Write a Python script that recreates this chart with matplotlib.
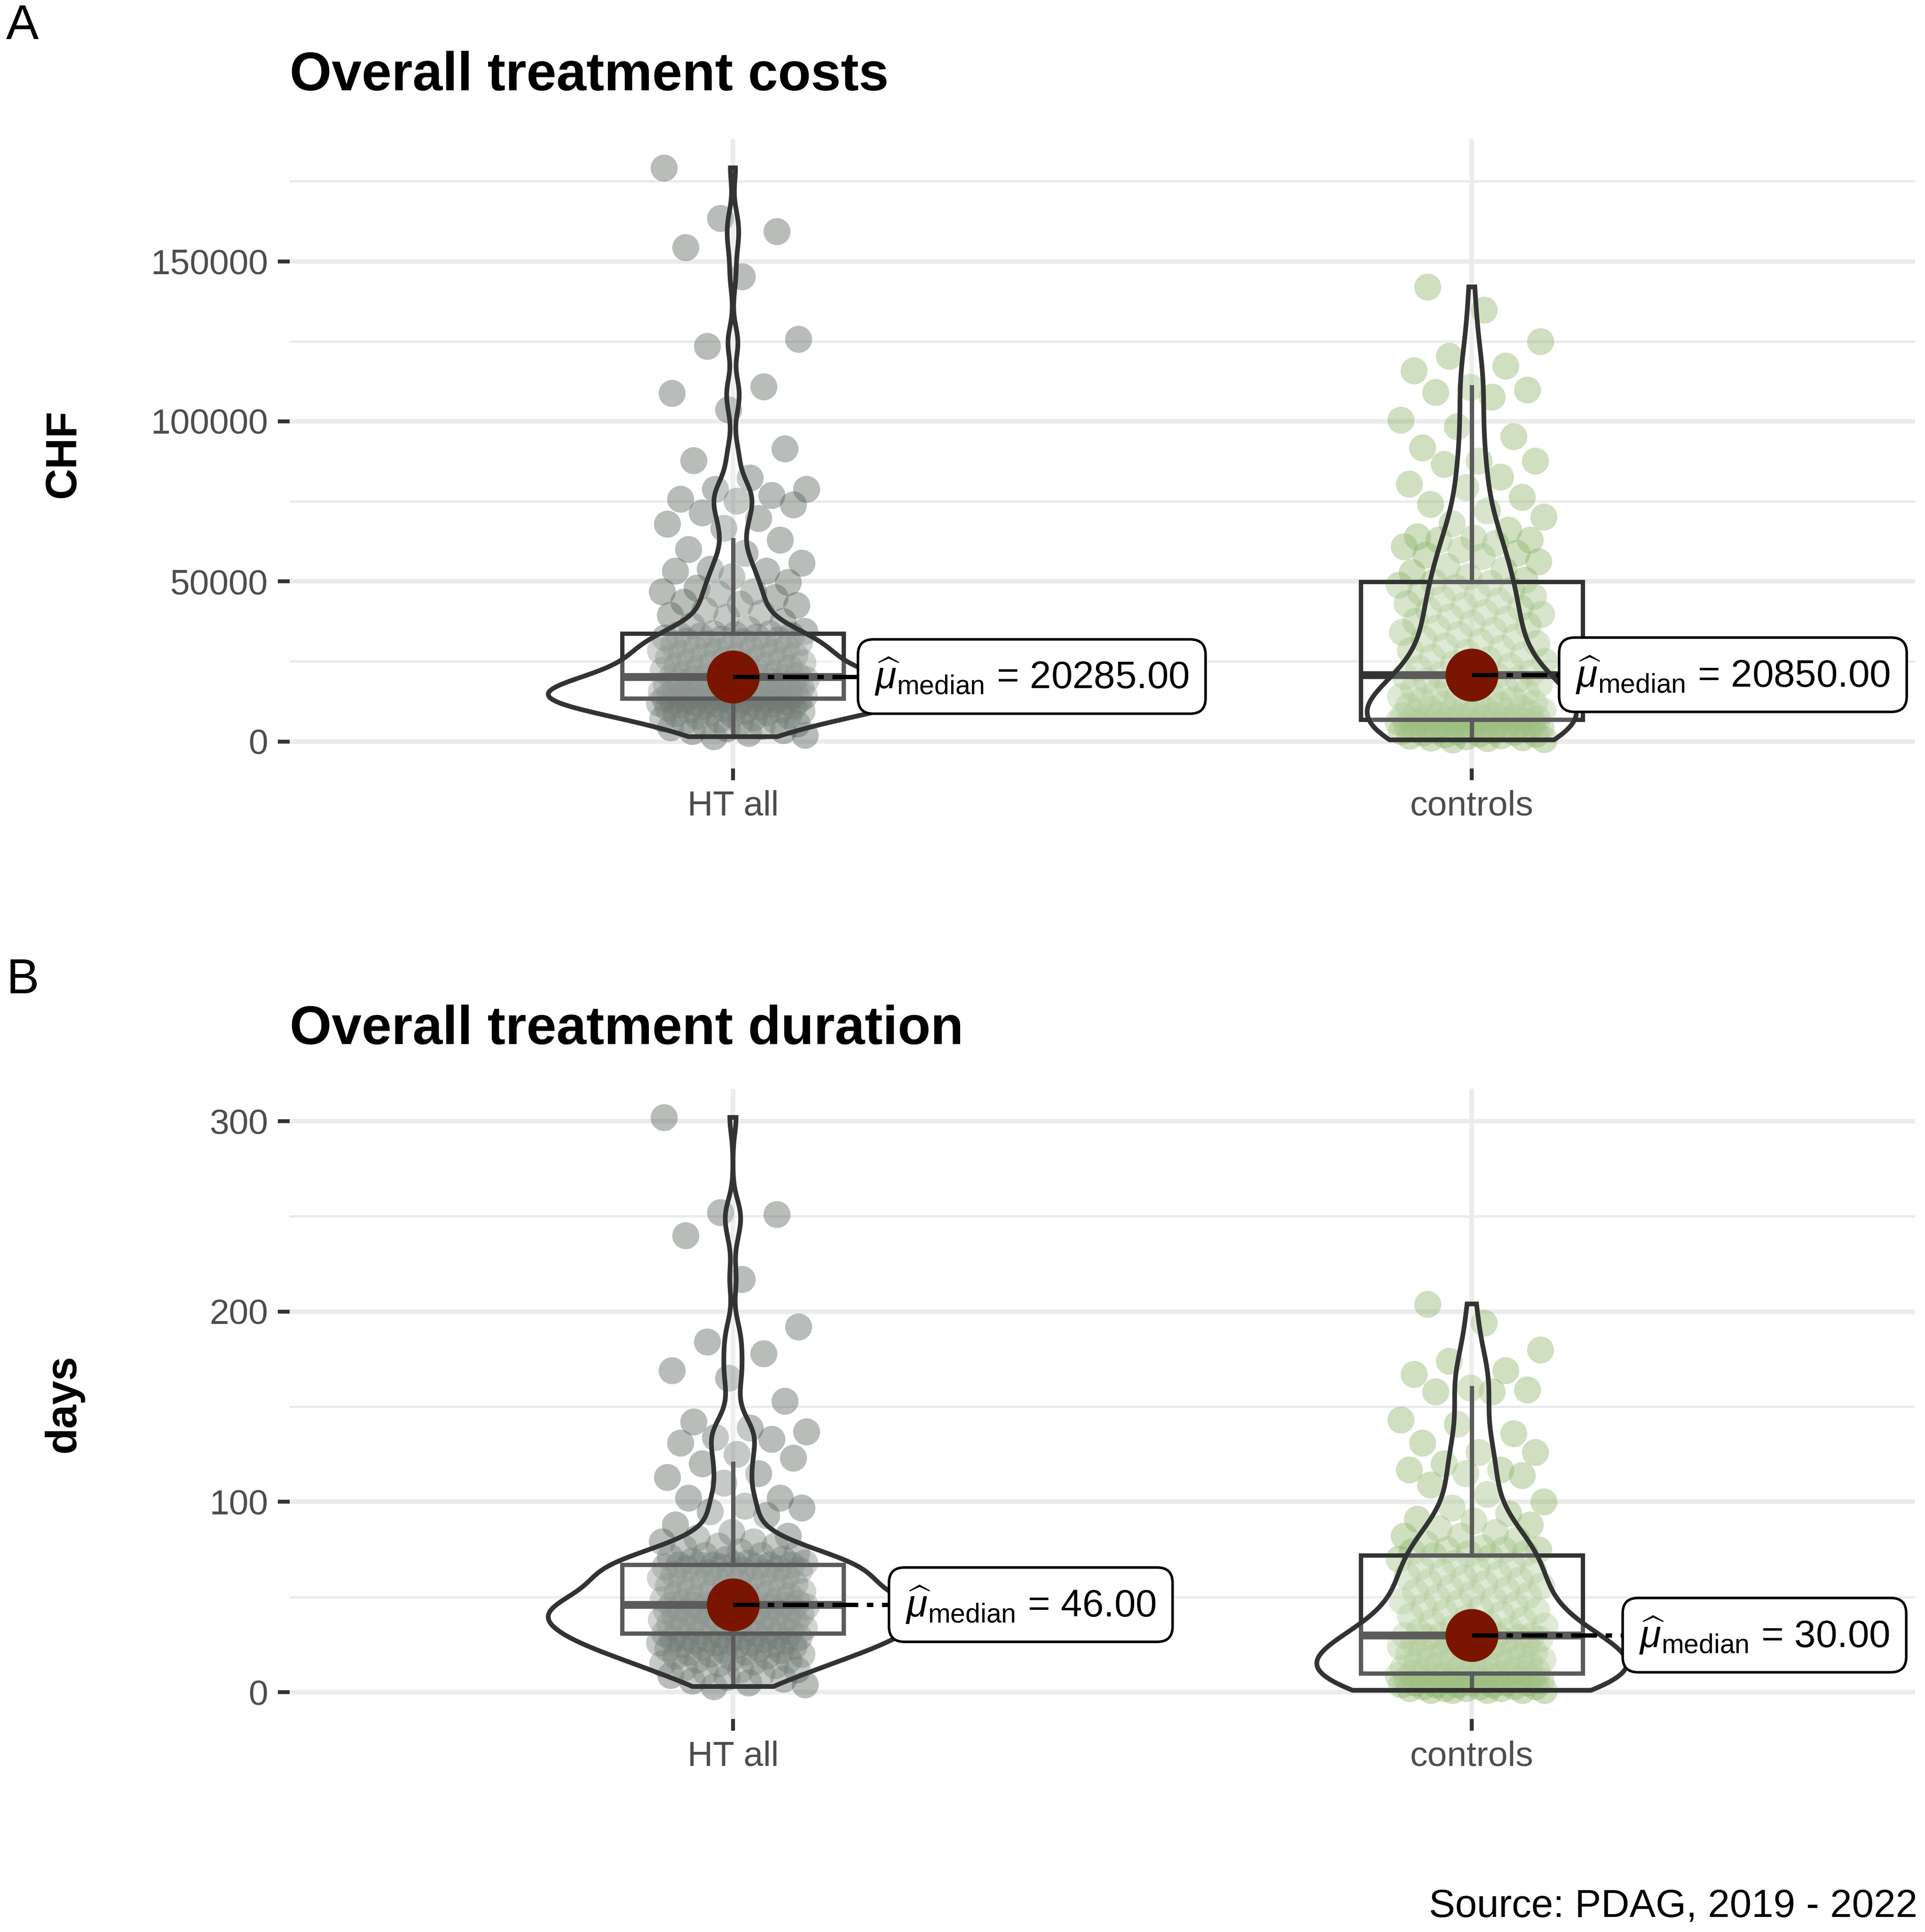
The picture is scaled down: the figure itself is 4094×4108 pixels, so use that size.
import numpy as np
import matplotlib.pyplot as plt

plt.rcParams['font.family'] = ['Liberation Sans', 'DejaVu Sans']
plt.rcParams['mathtext.fontset'] = 'custom'
plt.rcParams['mathtext.rm'] = 'Liberation Sans'
plt.rcParams['mathtext.it'] = 'Liberation Sans:italic'
plt.rcParams['mathtext.bf'] = 'Liberation Sans:bold'

# groups and panel texts
groups = ['HT all', 'controls']
titles = ['Overall treatment costs', 'Overall treatment duration']
ylabels = ['CHF', 'days']
panel_tags = ['A', 'B']
caption = 'Source: PDAG, 2019 - 2022'
yticks_cost = [0, 50000, 100000, 150000]
yticks_days = [0, 100, 200, 300]

# treatment costs (CHF)
cost_ht = [
    1500, 2000, 2600, 3100, 3500, 4000, 4400, 4800, 5200, 5500, 5900, 6200,
    6600, 6900, 7200, 7500, 7800, 8100, 8400, 8700, 9000, 9200, 9500, 9700,
    9900, 10100, 10300, 10500, 10700, 10900, 11100, 11300, 11500, 11700, 11800, 12000,
    12200, 12300, 12500, 12600, 12700, 12800, 12900, 13000, 13100, 13200, 13300, 13400,
    13430,
    13500, 13600, 13700, 13800, 13900, 14000, 14100, 14200, 14300, 14400, 14500, 14600,
    14700, 14800, 14900, 15000, 15100, 15200, 15300, 15500, 15600, 15700, 15900, 16000,
    16200, 16300, 16500, 16600, 16800, 17000, 17200, 17300, 17500, 17700, 17900, 18100,
    18300, 18500, 18700, 18900, 19100, 19300, 19500, 19700, 19900, 20000, 20200,
    20285,
    20400, 20700, 21000, 21300, 21600, 21900, 22200, 22500, 22800, 23100, 23400, 23700,
    24000, 24300, 24600, 24900, 25200, 25500, 25800, 26100, 26400, 26700, 27000, 27300,
    27600, 27900, 28200, 28500, 28800, 29100, 29400, 29700, 30000, 30300, 30600, 30900,
    31200, 31500, 31800, 32100, 32400, 32700, 33000, 33200, 33400, 33500, 33700,
    33770,
    34500, 35000, 36200, 37500, 38800, 39400, 40200, 41100, 42500, 43000, 43600, 45000,
    46100, 46800, 46800, 48000, 49700, 51500, 53300, 53300, 53900, 55700, 58800, 60000,
    63000, 66600, 67900, 69700, 71500, 74000, 75100, 75700, 76900, 78800, 78800, 82400,
    87800, 91500, 103600, 108800, 110800, 123500, 125700, 145300, 154400, 159300, 163500, 179200,
]
cost_ctrl = [
    500, 700, 900, 1100, 1300, 1500, 1700, 1900, 2100, 2300, 2500, 2700, 2900, 3000,
    3200, 3400, 3500, 3700, 3800, 4000, 4100, 4300, 4400, 4600, 4700, 4900, 5000, 5200,
    5300, 5500, 5600, 5700, 5800, 5900, 6000, 6100, 6200, 6300, 6400, 6500, 6600, 6800,
    6900,
    7100, 7300, 7500, 7700, 7900, 8100, 8300, 8500, 8700, 8900, 9100, 9300, 9500, 9700,
    9900, 10200, 10500, 10800, 11100, 11400, 11700, 12000, 12400, 12800, 13200, 13600, 14000,
    14500, 15000, 15500, 16000, 16500, 17000, 17500, 18000, 18500, 19000, 19500, 20000,
    20300, 20600,
    20850,
    21500, 22200, 22900, 23600, 24300, 25000, 25700, 26400, 27100, 27800, 28500, 29200,
    29900, 30600, 31300, 32000, 32700, 33400, 34100, 34800, 35500, 36200, 36900, 37600,
    38300, 39000, 39700, 40400, 41100, 41800, 42500, 43200, 43900, 44600, 45300, 46000,
    46700, 47400, 48100, 48800, 49500,
    49900,
    50500, 51500, 52800, 53700, 54700, 56200, 57800, 58300, 58800, 59900, 60900, 62000,
    62900, 62900, 63500, 64000, 66000, 68100, 70100, 72000, 74200, 76300, 79400, 80400,
    82600, 86600, 87600, 87600, 91700, 95300, 98400, 100400, 107600, 109100, 109900, 110700,
    115800, 117300, 120400, 125000, 134800, 142000,
]

# treatment duration (days)
days_ht = [
    3, 4, 5, 6, 7, 8, 9, 10, 11, 12, 12, 13, 14, 15, 15, 16, 17, 17, 18, 19, 19, 20, 20, 21,
    21, 22, 22, 23, 23, 24, 24, 25, 25, 25, 26, 26, 26, 27, 27, 27, 28, 28, 28, 29, 29, 29,
    30, 30,
    31,
    31, 32, 32, 33, 33, 33, 34, 34, 34, 35, 35, 35, 36, 36, 36, 37, 37, 37, 38, 38, 38, 39,
    39, 39, 40, 40, 40, 41, 41, 41, 42, 42, 42, 43, 43, 43, 44, 44, 44, 45, 45, 45, 45, 46,
    46, 46, 46,
    46,
    46, 47, 47, 48, 48, 49, 49, 50, 50, 51, 51, 52, 52, 53, 53, 54, 54, 55, 55, 56, 56, 57,
    57, 58, 58, 59, 59, 60, 60, 61, 61, 62, 62, 63, 63, 64, 64, 65, 65, 66, 66, 66, 67, 67,
    67, 67, 67,
    67,
    68, 68, 69, 70, 70, 71, 72, 72, 73, 74, 76, 77, 77, 79, 79, 81, 82, 84, 88, 93, 95, 97,
    98, 102, 102, 110, 113, 115, 120, 123, 125, 131, 133, 134, 137, 139, 142, 153, 165, 169,
    178, 184, 192, 217, 240, 251, 252, 302,
]
days_ctrl = [
    1, 1, 1, 1, 1, 2, 2, 2, 2, 3, 3, 3, 3, 4, 4, 4, 4, 5, 5, 5, 5, 6, 6, 6, 6, 7, 7, 7, 7,
    8, 8, 8, 8, 9, 9, 9, 9, 9, 10, 10, 10, 10,
    10,
    11, 11, 12, 12, 13, 13, 14, 14, 15, 15, 16, 16, 17, 17, 18, 18, 19, 19, 20, 20, 21, 21,
    22, 22, 23, 23, 24, 24, 25, 25, 26, 26, 27, 27, 28, 28, 29, 29, 29, 30, 30,
    30,
    30, 31, 32, 33, 34, 35, 36, 37, 38, 39, 40, 41, 42, 43, 44, 45, 46, 47, 48, 49, 50, 51,
    52, 53, 54, 55, 56, 57, 58, 59, 60, 61, 62, 63, 64, 65, 66, 67, 68, 70, 71,
    72,
    73, 73, 74, 75, 75, 75, 76, 78, 80, 82, 82, 84, 86, 88, 90, 91, 94, 97, 100, 104, 109,
    114, 115, 117, 117, 120, 126, 126, 131, 136, 141, 143, 158, 158, 159, 160, 167, 169,
    174, 180, 194, 204,
]

point_colors = ['#4E5A52', '#87B063']
median_color = '#7A1600'
dark = '#333333'
tick_grey = '#4D4D4D'
grid_grey = '#EBEBEB'

# label box offsets (x units, from group centre) as placed by the repel step
label_dx = [[0.169, 0.118], [0.211, 0.204]]


def bw_nrd0(x):
    sd = np.std(x, ddof=1)
    q75, q25 = np.percentile(x, [75, 25])
    return 0.9 * min(sd, (q75 - q25) / 1.34) * len(x) ** -0.2


def density(x, grid):
    bw = bw_nrd0(x)
    z = (grid[:, None] - x[None, :]) / bw
    return np.exp(-0.5 * z ** 2).sum(axis=1) / (len(x) * bw * np.sqrt(2 * np.pi))


def jitter(n, width=0.1):
    # evenly spread horizontal offsets (golden ratio sequence)
    k = np.arange(n)
    return ((k * 0.6180339887 + 0.37) % 1.0) * 2 * width - width


def draw_panel(ax, values, yticks, dx):
    values = [np.asarray(v, float) for v in values]
    allv = np.concatenate(values)
    lo, hi = allv.min(), allv.max()
    pad = 0.05 * (hi - lo)
    ax.set_xlim(0.4, 2.6)
    ax.set_ylim(lo - pad, hi + pad)

    step = yticks[1] - yticks[0]
    ax.set_yticks(yticks)
    ax.set_yticks(np.arange(yticks[0] + step / 2, hi + pad, step), minor=True)
    ax.set_xticks([1, 2])
    ax.set_xticklabels(groups)
    ax.grid(which='major', color=grid_grey, lw=2.3, zorder=0)
    ax.grid(which='minor', axis='y', color=grid_grey, lw=1.2, zorder=0)
    ax.set_axisbelow(True)
    for s in ax.spines.values():
        s.set_visible(False)
    ax.tick_params(which='major', length=6, width=2, color=dark, pad=5,
                   labelsize=18, labelcolor=tick_grey)
    ax.tick_params(which='minor', length=0)

    grids = [np.linspace(v.min(), v.max(), 512) for v in values]
    dens = [density(v, g) for v, g in zip(values, grids)]
    dmax = max(d.max() for d in dens)

    for i, (v, g, d) in enumerate(zip(values, grids, dens)):
        x0 = i + 1
        ax.scatter(x0 + jitter(len(v)), v, s=190, color=point_colors[i],
                   alpha=0.4, linewidths=0, zorder=2)
        ax.boxplot([v], positions=[x0], widths=0.3, whis=1.5, showfliers=False,
                   showcaps=False, patch_artist=True, manage_ticks=False,
                   boxprops=dict(facecolor=(1, 1, 1, 0.2), edgecolor=dark, lw=2.2),
                   medianprops=dict(color=dark, lw=4.0, solid_capstyle='butt'),
                   whiskerprops=dict(color=dark, lw=2.2), zorder=3)
        w = d / dmax * 0.25
        ax.fill(np.r_[x0 - w, (x0 + w)[::-1]], np.r_[g, g[::-1]],
                facecolor=(1, 1, 1, 0.2), edgecolor=dark, lw=2.4, zorder=4)

        med = np.median(v)
        ax.plot(x0, med, 'o', ms=27, color=median_color, mec='none', zorder=5)
        xl = x0 + dx[i]
        ax.plot([x0, xl], [med, med], color='black', lw=2.2,
                ls=(0, (6, 2, 1.5, 2)), zorder=6)
        ax.annotate(rf'$\widehat{{\mu}}_{{\mathrm{{median}}}}$ = {med:.2f}',
                    xy=(xl, med), xytext=(8.5, 0), textcoords='offset points',
                    ha='left', va='center', fontsize=19.6, color='black',
                    bbox=dict(boxstyle='round,pad=0.43,rounding_size=0.4',
                              fc='white', ec='black', lw=1.3),
                    zorder=7, annotation_clip=False)


fig = plt.figure(figsize=(4094 / 300, 4108 / 300), dpi=300)
ax_top = fig.add_axes([0.15046, 0.60224, 0.84440, 0.32571])
ax_bot = fig.add_axes([0.15046, 0.11027, 0.84440, 0.32619])

draw_panel(ax_top, [cost_ht, cost_ctrl], yticks_cost, label_dx[0])
draw_panel(ax_bot, [days_ht, days_ctrl], yticks_days, label_dx[1])

for ax, lab in zip([ax_top, ax_bot], ylabels):
    ax.set_ylabel(lab, fontsize=22, fontweight='bold')
    ax.yaxis.set_label_coords(-0.1265, 0.5)

# titles and panel tags
fig.text(0.15046, 0.95326, titles[0], fontsize=27.5, fontweight='bold', va='baseline')
fig.text(0.15046, 0.45959, titles[1], fontsize=27.5, fontweight='bold', va='baseline')
fig.text(0.0032, 0.9798, panel_tags[0], fontsize=25, va='baseline')
fig.text(0.0032, 0.48588, panel_tags[1], fontsize=25, va='baseline')
fig.text(0.99600, 0.00803, caption, fontsize=20, ha='right', va='baseline')

fig.savefig('out.png', dpi=300, facecolor='white')
